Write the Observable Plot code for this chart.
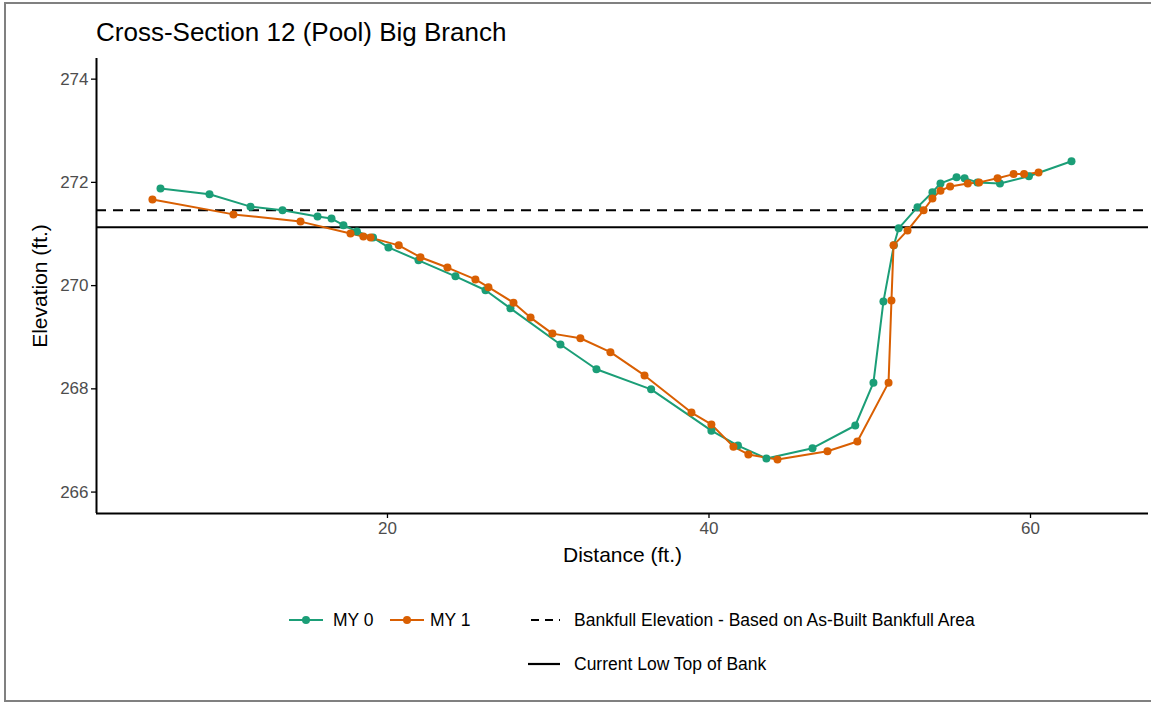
<!DOCTYPE html>
<html>
<head>
<meta charset="utf-8">
<script src="https://cdn.jsdelivr.net/npm/d3@7"></script>
<script src="https://cdn.jsdelivr.net/npm/@observablehq/plot@0.6"></script>
<style>
  html, body { margin: 0; padding: 0; background: #fff; }
  #wrap { position: relative; width: 1151px; height: 704px; overflow: hidden; font-family: "Liberation Sans", Arial, Helvetica, sans-serif; }
  #frame { position: absolute; left: 4px; top: 2px; width: 1152px; height: 700px; border: 2px solid #808080; box-sizing: border-box; }
  #chart { position: absolute; left: 0; top: 0; }
  #title { position: absolute; left: 96px; top: 19px; font-size: 26px; line-height: 26px; color: #000; white-space: nowrap; }
  .lg { position: absolute; height: 18px; line-height: 18px; font-size: 17.5px; color: #000; white-space: nowrap; }
  .key { position: absolute; }
</style>
</head>
<body>
<div id="wrap">
  <div id="frame"></div>
  <div id="chart"></div>
  <div id="title">Cross-Section 12 (Pool) Big Branch</div>
  <div id="legend"></div>
</div>
<script>
// ---- data ----
const my0Distance = [5.88, 8.93, 11.48, 13.47, 15.65, 16.52, 17.26, 18.1, 19.1, 20.06, 21.93, 24.23, 26.1, 27.65, 30.76, 33.0, 36.4, 40.15, 41.8, 43.57, 46.44, 49.1, 50.23, 50.85, 51.5, 51.8, 52.97, 53.9, 54.4, 55.4, 55.9, 56.7, 58.1, 59.9, 62.55];
const my0Elevation = [271.88, 271.77, 271.53, 271.46, 271.34, 271.30, 271.17, 271.05, 270.93, 270.74, 270.49, 270.18, 269.91, 269.56, 268.86, 268.38, 267.99, 267.19, 266.9, 266.65, 266.85, 267.29, 268.12, 269.69, 270.78, 271.11, 271.52, 271.81, 271.98, 272.10, 272.08, 272.0, 271.98, 272.12, 272.41];
const my1Distance = [5.38, 10.42, 14.59, 17.7, 18.5, 18.95, 20.7, 22.05, 23.73, 25.47, 26.28, 27.84, 28.9, 30.26, 32.0, 33.87, 35.99, 38.91, 40.15, 41.52, 42.45, 44.26, 47.37, 49.23, 51.17, 51.35, 51.48, 52.35, 53.35, 53.9, 54.4, 55.0, 56.1, 56.8, 57.95, 58.95, 59.6, 60.5];
const my1Elevation = [271.67, 271.38, 271.24, 271.01, 270.95, 270.93, 270.78, 270.55, 270.35, 270.12, 269.97, 269.67, 269.38, 269.07, 268.98, 268.71, 268.26, 267.54, 267.31, 266.88, 266.73, 266.63, 266.79, 266.98, 268.12, 269.71, 270.78, 271.07, 271.46, 271.69, 271.84, 271.92, 271.98, 272.0, 272.08, 272.16, 272.16, 272.19];
const bankfullElevation = [271.46];
const lowTopOfBank = [271.13];
const xTicks = [20, 40, 60];
const yTicks = [266, 268, 270, 272, 274];
const xDomain = [1.9, 67.34];
const yDomain = [265.585, 274.4];
const seriesNames = ["MY 0", "MY 1"];
const seriesColors = ["#1b9e77", "#d95f02"];
const legendLabels = ["Bankfull Elevation - Based on As-Built Bankfull Area", "Current Low Top of Bank"];

const my0 = my0Distance.map((d, i) => ({x: d, y: my0Elevation[i]}));
const my1 = my1Distance.map((d, i) => ({x: d, y: my1Elevation[i]}));

const font = '"Liberation Sans", Arial, Helvetica, sans-serif';

const chart = Plot.plot({
  width: 1151,
  height: 560,
  marginLeft: 96,
  marginRight: 3,
  marginTop: 58,
  marginBottom: 47,
  x: {domain: xDomain},
  y: {domain: yDomain},
  style: {fontFamily: font, fontSize: "17px", background: "transparent", overflow: "visible"},
  marks: [
    Plot.ruleY(bankfullElevation, {y: d => d, stroke: "black", strokeWidth: 2.2, strokeDasharray: "10,7"}),
    Plot.ruleY(lowTopOfBank, {y: d => d, stroke: "black", strokeWidth: 2}),
    Plot.line(my0, {x: "x", y: "y", stroke: seriesColors[0], strokeWidth: 2}),
    Plot.line(my1, {x: "x", y: "y", stroke: seriesColors[1], strokeWidth: 2}),
    Plot.dot(my0, {x: "x", y: "y", r: 4, fill: seriesColors[0], stroke: "none"}),
    Plot.dot(my1, {x: "x", y: "y", r: 4, fill: seriesColors[1], stroke: "none"}),
    Plot.axisX({ticks: xTicks, tickSize: 5, tickPadding: 3, stroke: "black", strokeWidth: 1.3, fill: "#4d4d4d", label: null, fontSize: 17}),
    Plot.axisY({ticks: yTicks, tickSize: 5, tickPadding: 3, stroke: "black", strokeWidth: 1.3, fill: "#4d4d4d", label: null, fontSize: 17}),
    Plot.ruleX([xDomain[0]], {stroke: "black", strokeWidth: 2}),
    Plot.ruleY([yDomain[0]], {stroke: "black", strokeWidth: 2}),
    Plot.text(["Distance (ft.)"], {frameAnchor: "bottom", dy: 42, lineAnchor: "middle", textAnchor: "middle", fontSize: 21, fill: "black"}),
    Plot.text(["Elevation (ft.)"], {frameAnchor: "left", dx: -56, rotate: -90, lineAnchor: "middle", textAnchor: "middle", fontSize: 21, fill: "black"})
  ]
});
document.getElementById("chart").appendChild(chart);

// ---- legend ----
const legend = document.getElementById("legend");
function addKey(left, top, width, svgInner) {
  const s = document.createElementNS("http://www.w3.org/2000/svg", "svg");
  s.setAttribute("class", "key");
  s.setAttribute("width", width);
  s.setAttribute("height", 18);
  s.style.left = left + "px";
  s.style.top = top + "px";
  s.innerHTML = svgInner;
  legend.appendChild(s);
}
function addLabel(left, top, text) {
  const d = document.createElement("div");
  d.className = "lg";
  d.style.left = left + "px";
  d.style.top = top + "px";
  d.textContent = text;
  legend.appendChild(d);
}
const row1 = 611, row2 = 655;
addKey(289, row1, 34, `<line x1="0" x2="34" y1="9" y2="9" stroke="${seriesColors[0]}" stroke-width="2"/><circle cx="17" cy="9" r="4" fill="${seriesColors[0]}"/>`);
addLabel(333, row1, seriesNames[0]);
addKey(390, row1, 34, `<line x1="0" x2="34" y1="9" y2="9" stroke="${seriesColors[1]}" stroke-width="2"/><circle cx="17" cy="9" r="4" fill="${seriesColors[1]}"/>`);
addLabel(430, row1, seriesNames[1]);
addKey(530, row1, 30, `<line x1="1" x2="30" y1="9" y2="9" stroke="black" stroke-width="2.2" stroke-dasharray="8,6"/>`);
addLabel(574, row1, legendLabels[0]);
addKey(528, row2, 32, `<line x1="0" x2="32" y1="9" y2="9" stroke="black" stroke-width="2.2"/>`);
addLabel(574, row2, legendLabels[1]);
</script>
</body>
</html>
